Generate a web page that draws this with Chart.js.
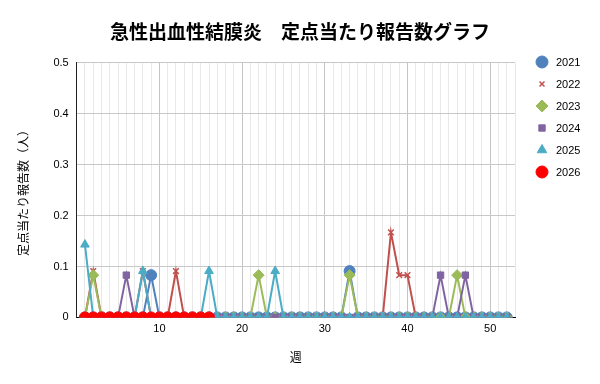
<!DOCTYPE html>
<html><head><meta charset="utf-8">
<script src="https://cdn.jsdelivr.net/npm/chart.js@4/dist/chart.umd.min.js"></script>
<style>html,body{margin:0;padding:0;background:#fff}#w{width:600px;height:384px}</style>
</head><body><div id="w"><canvas id="c" width="600" height="384"></canvas></div>
<script>
const weeks = Array.from({length: 52}, (_, i) => i + 1);
const seriesNames = ["2021","2022","2023","2024","2025","2026"];
// non-zero weekly values per year (week: value); all other weeks are 0
const y2021 = {9:0.083, 33:0.091};
const y2022 = {2:0.091, 8:0.091, 12:0.091, 38:0.167, 39:0.083, 40:0.083};
const y2023 = {2:0.083, 22:0.083, 33:0.083, 46:0.083};
const y2024 = {6:0.083, 44:0.083, 47:0.083};
const y2025 = {1:0.143, 8:0.091, 16:0.091, 24:0.091};
const y2026 = {};
const lastWeek = [52, 52, 52, 52, 52, 16];
const xTickLabels = [10, 20, 30, 40, 50];
const yTicks = [0, 0.1, 0.2, 0.3, 0.4, 0.5];

const colors = ["#4f81bd","#c0504d","#9bbb59","#8064a2","#4bacc6","#ff0000"];
const styles = ["circle","crossRot","rectRot","rect","triangle","circle"];
const radii = [5.5, 4, 5.5, 4.5, 5, 5.5];
const legendRadii = [6, 3.5, 6, 4.5, 5.5, 6];

const yearData = [y2021,y2022,y2023,y2024,y2025,y2026];
const datasets = yearData.map((d, i) => ({
  label: seriesNames[i],
  data: weeks.filter(w => w <= lastWeek[i]).map(w => ({x: w, y: d[w] || 0})),
  borderColor: colors[i],
  backgroundColor: colors[i],
  pointStyle: styles[i],
  pointRadius: radii[i],
  pointBorderWidth: styles[i] === "crossRot" ? 1.5 : 1,
  borderWidth: 2,
  order: 6 - i,
  clip: {left: 10, top: 10, right: 10, bottom: 0},
  tension: 0
}));

const legendPlugin = {
  id: 'sideLegend',
  afterDraw(chart) {
    const ctx = chart.ctx;
    ctx.save();
    chart.data.datasets.forEach((ds, i) => {
      const y = 62 + i * 22;
      ctx.fillStyle = ds.backgroundColor;
      ctx.strokeStyle = ds.borderColor;
      ctx.lineWidth = styles[i] === 'crossRot' ? 1.5 : 1;
      Chart.helpers.drawPoint(ctx, {pointStyle: styles[i], radius: legendRadii[i], rotation: 0, borderWidth: ctx.lineWidth}, 542, y);
      ctx.fillStyle = '#000';
      ctx.font = '11px "Liberation Sans", Arial';
      ctx.textBaseline = 'middle';
      ctx.textAlign = 'left';
      ctx.fillText(ds.label, 556, y + 0.5);
    });
    ctx.restore();
  }
};

new Chart(document.getElementById('c'), {
  type: 'line',
  data: {datasets},
  plugins: [legendPlugin],
  options: {
    responsive: false,
    animation: false,
    devicePixelRatio: 1,
    layout: {padding: {left: 0, right: 0, top: 0, bottom: 0}},
    plugins: {
      title: {
        display: true,
        text: '急性出血性結膜炎\u3000定点当たり報告数グラフ',
        color: '#000',
        font: {family: '"Noto Sans CJK JP"', size: 19, weight: 'bold'},
        padding: {top: 20, bottom: 20}
      },
      legend: {display: false},
      tooltip: {enabled: false}
    },
    scales: {
      x: {
        type: 'linear',
        min: 0, max: 53,
        afterBuildTicks: ax => { ax.ticks = Array.from({length: 54}, (_, i) => ({value: i})); },
        ticks: {
          autoSkip: false, maxRotation: 0,
          color: '#000', padding: 5,
          font: {family: '"Liberation Sans", Arial', size: 11},
          callback: v => xTickLabels.includes(v) ? String(v) : ''
        },
        grid: {
          color: c => (c.tick && c.tick.value % 10 === 0) ? '#c4c4c4' : '#e8e8e8',
          drawTicks: false
        },
        border: {color: '#000', width: 1},
        title: {display: true, text: '週', color: '#000',
          font: {family: '"Noto Sans CJK JP"', size: 12}, padding: {top: 10, bottom: 19}}
      },
      y: {
        min: 0, max: 0.5,
        afterBuildTicks: ax => { ax.ticks = yTicks.map(v => ({value: v})); },
        ticks: {
          color: '#000',
          font: {family: '"Liberation Sans", Arial', size: 11},
          padding: 8,
          callback: v => String(Math.round(v * 10) / 10)
        },
        grid: {color: '#c8c8c8', drawTicks: false},
        border: {color: '#222', width: 1},
        title: {display: true, text: '定点当たり報告数（人）', color: '#000',
          font: {family: '"Noto Sans CJK JP"', size: 12}, padding: {top: 16, bottom: 15}}
      },
      legendSpace: {
        type: 'linear',
        position: 'right',
        display: true,
        afterFit: s => { s.width = 85; },
        grid: {display: false, drawTicks: false},
        ticks: {display: false},
        border: {display: false}
      }
    }
  }
});
</script></body></html>
